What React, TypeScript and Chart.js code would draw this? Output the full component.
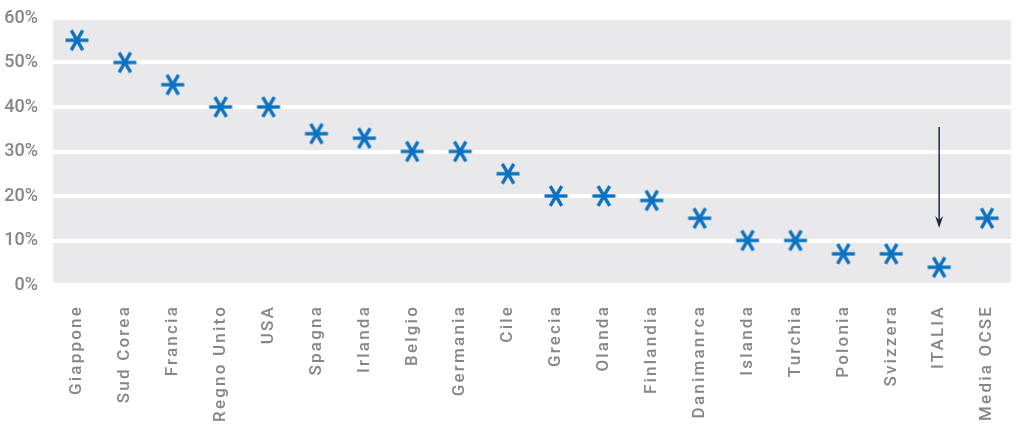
import { useEffect, useRef } from 'react';
import { Chart, registerables } from 'chart.js';

Chart.register(...registerables);

const countries = [
  'Giappone', 'Sud Corea', 'Francia', 'Regno Unito', 'USA', 'Spagna', 'Irlanda',
  'Belgio', 'Germania', 'Cile', 'Grecia', 'Olanda', 'Finlandia', 'Danimanrca',
  'Islanda', 'Turchia', 'Polonia', 'Svizzera', 'ITALIA', 'Media OCSE',
];
const values = [55, 50, 45, 40, 40, 34, 33, 30, 30, 25, 20, 20, 19, 15, 10, 10, 7, 7, 4, 15];
const yTicks = [0, 10, 20, 30, 40, 50, 60];

// arrow pointing at Italy (value range in %)
const arrowCategory = 'ITALIA';
const arrowFrom = 35.5;
const arrowTo = 12.8;

const BLUE = '#0b72c0';
const GREY_TEXT = '#85858b';

function makeAsterisk(): HTMLCanvasElement {
  const c = document.createElement('canvas');
  c.width = 26;
  c.height = 26;
  const g = c.getContext('2d')!;
  g.strokeStyle = BLUE;
  g.lineWidth = 3.4;
  g.lineCap = 'butt';
  const r = 11.5;
  for (let k = 0; k < 3; k++) {
    const a = (k * Math.PI) / 3;
    g.beginPath();
    g.moveTo(13 - r * Math.cos(a), 13 - r * Math.sin(a));
    g.lineTo(13 + r * Math.cos(a), 13 + r * Math.sin(a));
    g.stroke();
  }
  return c;
}

const App = () => {
  const canvasRef = useRef<HTMLCanvasElement>(null);
  const chartRef = useRef<Chart | null>(null);

  useEffect(() => {
    document.body.style.margin = '0';
    if (!canvasRef.current) return;
    const ctx = canvasRef.current.getContext('2d');
    if (!ctx) return;

    if (chartRef.current) chartRef.current.destroy();

    const bgPlugin = {
      id: 'plotBg',
      beforeDraw(chart: any) {
        const { ctx, chartArea } = chart;
        ctx.save();
        ctx.fillStyle = '#e9e9ec';
        ctx.fillRect(chartArea.left, chartArea.top, chartArea.right - chartArea.left, chartArea.bottom - chartArea.top);
        ctx.restore();
        // spaced-out category labels
        const xs = chart.scales.x;
        if (xs && !xs._spaced) {
          const orig = xs.drawLabels.bind(xs);
          xs.drawLabels = (area: any) => {
            chart.ctx.save();
            chart.ctx.letterSpacing = '2.2px';
            orig(area);
            chart.ctx.restore();
          };
          xs._spaced = true;
        }
      },
    };

    const arrowPlugin = {
      id: 'arrow',
      afterDatasetsDraw(chart: any) {
        const { ctx } = chart;
        const x = chart.scales.x.getPixelForValue(countries.indexOf(arrowCategory));
        const y1 = chart.scales.y.getPixelForValue(arrowFrom);
        const y2 = chart.scales.y.getPixelForValue(arrowTo);
        ctx.save();
        ctx.strokeStyle = '#1d2b45';
        ctx.fillStyle = '#1d2b45';
        ctx.lineWidth = 1.5;
        ctx.beginPath();
        ctx.moveTo(x, y1);
        ctx.lineTo(x, y2 - 6);
        ctx.stroke();
        ctx.beginPath();
        ctx.moveTo(x - 4, y2 - 12);
        ctx.lineTo(x, y2);
        ctx.lineTo(x + 4, y2 - 12);
        ctx.lineTo(x, y2 - 8);
        ctx.closePath();
        ctx.fill();
        ctx.restore();
      },
    };

    chartRef.current = new Chart(ctx, {
      type: 'line',
      data: {
        labels: countries,
        datasets: [{
          data: values,
          showLine: false,
          pointStyle: makeAsterisk(),
          pointRadius: 12,
          pointHoverRadius: 12,
        }],
      },
      options: {
        responsive: true,
        maintainAspectRatio: false,
        animation: false,
        layout: { padding: { top: 18, right: 9, left: 0, bottom: 0 } },
        plugins: {
          legend: { display: false },
          tooltip: { enabled: false },
        },
        scales: {
          x: {
            offset: true,
            border: { display: false },
            grid: { display: false, drawTicks: false },
            afterFit: (scale: any) => {
              scale.height = 140;
              scale.paddingLeft = 0;
              scale.paddingRight = 0;
            },
            ticks: {
              autoSkip: false,
              minRotation: 90,
              maxRotation: 90,
              padding: 20,
              color: GREY_TEXT,
              font: { family: 'Roboto', size: 17, weight: 500 },
            },
          },
          y: {
            min: 0,
            max: 60,
            border: { display: false },
            afterFit: (scale: any) => {
              scale.width = 53;
              scale.paddingTop = 0;
              scale.paddingBottom = 0;
            },
            afterBuildTicks: (scale: any) => { scale.ticks = yTicks.map(v => ({ value: v })); },
            grid: { color: '#ffffff', lineWidth: 4, drawTicks: false },
            ticks: {
              padding: 15,
              color: GREY_TEXT,
              font: { family: 'Roboto', size: 18, weight: 500 },
              callback: (v: any) => `${v}%`,
            },
          },
        },
      },
      plugins: [bgPlugin, arrowPlugin],
    });

    return () => {
      if (chartRef.current) chartRef.current.destroy();
    };
  }, []);

  return (
    <div style={{ width: 1024, height: 425, position: 'relative' }}>
      <canvas ref={canvasRef} />
    </div>
  );
};

export default App;
